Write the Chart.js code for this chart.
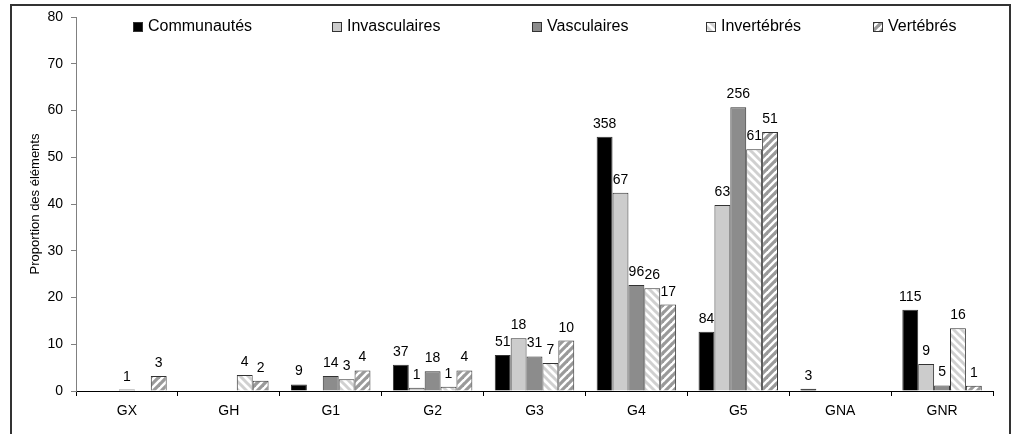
<!DOCTYPE html>
<html><head><meta charset="utf-8">
<script src="https://cdn.jsdelivr.net/npm/chart.js@4.4.1/dist/chart.umd.min.js"></script>
<style>html,body{margin:0;padding:0;background:#fff}#wrap{width:1016px;height:434px;position:relative}</style>
</head><body><div id="wrap"><canvas id="c" width="1016" height="434"></canvas></div>
<script>
// ---- data ----
const categories = ['GX','GH','G1','G2','G3','G4','G5','GNA','GNR'];
const seriesNames = ['Communautés','Invasculaires','Vasculaires','Invertébrés','Vertébrés'];
const communautes   = [0, 0, 1.4, 5.6, 7.7, 54.4, 12.7, 0.5, 17.4];
const invasculaires = [0, 0, 0, 0.7, 11.3, 42.4, 39.8, 0, 5.8];
const vasculaires   = [0.3, 0, 3.2, 4.2, 7.4, 22.7, 60.7, 0, 1.2];
const invertebres   = [0, 3.4, 2.5, 0.9, 6.0, 22.0, 51.7, 0, 13.4];
const vertebres     = [3.2, 2.2, 4.4, 4.4, 10.8, 18.5, 55.4, 0, 1.1];
const countsCommunautes   = [null, null, 9, 37, 51, 358, 84, 3, 115];
const countsInvasculaires = [null, null, null, 1, 18, 67, 63, null, 9];
const countsVasculaires   = [1, null, 14, 18, 31, 96, 256, null, 5];
const countsInvertebres   = [null, 4, 3, 1, 7, 26, 61, null, 16];
const countsVertebres     = [3, 2, 4, 4, 10, 17, 51, null, 1];
const yTicks = [0, 10, 20, 30, 40, 50, 60, 70, 80];
const yTitle = 'Proportion des éléments';

const FONT = '"Liberation Sans", Arial, sans-serif';
const canvas = document.getElementById('c');
const ctx0 = canvas.getContext('2d');

function stripes(bg, fg, dir, size, lw) {
  const t = document.createElement('canvas');
  t.width = size; t.height = size;
  const c = t.getContext('2d');
  c.fillStyle = bg; c.fillRect(0, 0, size, size);
  c.strokeStyle = fg; c.lineWidth = lw; c.lineCap = 'square';
  for (const off of [-size, 0, size]) {
    c.beginPath();
    if (dir === 'back') { c.moveTo(off, 0); c.lineTo(off + size, size); }
    else { c.moveTo(off, size); c.lineTo(off + size, 0); }
    c.stroke();
  }
  return ctx0.createPattern(t, 'repeat');
}

const fills = [
  '#000000',
  '#cccccc',
  '#8c8c8c',
  stripes('#ffffff', '#d0d0d0', 'back', 8, 3),
  stripes('#ffffff', '#9a9a9a', 'fwd', 8, 3.2)
];
const values = [communautes, invasculaires, vasculaires, invertebres, vertebres];
const counts = [countsCommunautes, countsInvasculaires, countsVasculaires, countsInvertebres, countsVertebres];

const datasets = seriesNames.map((n, i) => ({
  label: n,
  data: values[i],
  counts: counts[i],
  backgroundColor: fills[i],
  borderColor: '#333333',
  borderWidth: 1,
  borderSkipped: 'bottom',
  categoryPercentage: 0.78,
  barPercentage: 1.0
}));

const labelPlugin = {
  id: 'vlabels',
  afterDatasetsDraw(chart) {
    const ctx = chart.ctx;
    ctx.save();
    ctx.font = '14px ' + FONT;
    ctx.fillStyle = '#000';
    ctx.textAlign = 'center';
    ctx.textBaseline = 'alphabetic';
    chart.data.datasets.forEach((ds, di) => {
      const meta = chart.getDatasetMeta(di);
      meta.data.forEach((bar, i) => {
        const c = ds.counts[i];
        if (c === null || c === undefined) return;
        ctx.fillText(String(c), bar.x, bar.y - 9);
      });
    });
    ctx.restore();
  }
};

const legendX = [133, 332, 532, 706, 873];
const legendPlugin = {
  id: 'customLegend',
  afterDraw(chart) {
    const ctx = chart.ctx;
    ctx.save();
    ctx.font = '16px ' + FONT;
    ctx.textBaseline = 'middle';
    ctx.textAlign = 'left';
    chart.data.datasets.forEach((ds, i) => {
      const x = legendX[i], y = 22;
      ctx.fillStyle = ds.backgroundColor;
      ctx.fillRect(x, y, 10, 10);
      ctx.strokeStyle = '#333';
      ctx.lineWidth = 1;
      ctx.strokeRect(x + 0.5, y + 0.5, 9, 9);
      ctx.fillStyle = '#000';
      ctx.fillText(ds.label, x + 15, y + 5);
    });
    ctx.restore();
  }
};

const framePlugin = {
  id: 'frame',
  afterDraw(chart) {
    const ctx = chart.ctx;
    const a = chart.chartArea;
    ctx.save();
    ctx.strokeStyle = '#333';
    ctx.lineWidth = 2;
    ctx.strokeRect(11, 5, 999, 440);
    ctx.translate(35, (a.top + a.bottom) / 2);
    ctx.rotate(-Math.PI / 2);
    ctx.font = '13px ' + FONT;
    ctx.fillStyle = '#000';
    ctx.textAlign = 'center';
    ctx.textBaseline = 'middle';
    ctx.fillText(yTitle, 0, 0);
    ctx.restore();
  }
};

new Chart(canvas, {
  type: 'bar',
  data: { labels: categories, datasets },
  options: {
    responsive: false,
    animation: false,
    devicePixelRatio: 1,
    layout: { padding: { left: 0, right: 23, top: 17, bottom: 0 } },
    plugins: { legend: { display: false }, tooltip: { enabled: false } },
    scales: {
      x: {
        afterFit(s) { s.height = 43; },
        grid: { display: true, drawOnChartArea: false, drawTicks: true, tickLength: 5, color: '#000', offset: true },
        border: { display: true, color: '#000', width: 1 },
        ticks: { color: '#000', font: { size: 14, family: FONT }, padding: 7, maxRotation: 0 }
      },
      y: {
        min: 0, max: 80,
        afterFit(s) { s.width = 76; },
        afterBuildTicks(s) { s.ticks = yTicks.map(v => ({ value: v })); },
        grid: { display: true, drawOnChartArea: false, drawTicks: true, tickLength: 5, color: '#808080' },
        border: { display: true, color: '#808080', width: 1 },
        ticks: { color: '#000', font: { size: 14, family: FONT }, padding: 8 }
      }
    }
  },
  plugins: [labelPlugin, legendPlugin, framePlugin]
});
</script>
</body></html>
